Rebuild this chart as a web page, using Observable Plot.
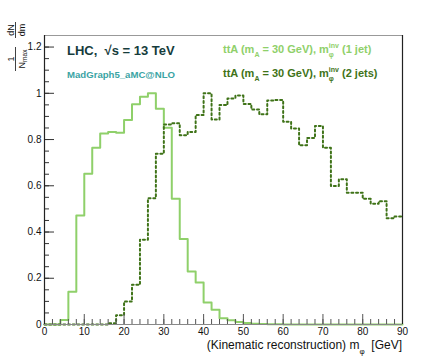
<!DOCTYPE html>
<html>
<head>
<meta charset="utf-8">
<script src="https://cdn.jsdelivr.net/npm/d3@7"></script>
<script src="https://cdn.jsdelivr.net/npm/@observablehq/plot@0.6"></script>
<style>
  html, body { margin: 0; padding: 0; background: #fff; }
  svg text { white-space: pre; }
</style>
</head>
<body>
<div id="chart"></div>
<script>
// bin width 2 GeV, bins from 0 to 90
const binWidth = 2;
const xDomain = [0, 90];
const yDomain = [0, 1.25];
const xMajor = [0, 10, 20, 30, 40, 50, 60, 70, 80, 90];
const xMinor = d3.range(0, 91, 2);
const yMajor = [0, 0.2, 0.4, 0.6, 0.8, 1, 1.2];
const yMinor = d3.range(0, 1.25, 0.05);

// ttA (mA = 30 GeV), m_phi^inv (1 jet)
const oneJet = [0, 0, 0.020, 0.142, 0.471, 0.652, 0.765, 0.826, 0.833, 0.829,
  0.884, 0.953, 0.985, 1.0, 0.933, 0.851, 0.544, 0.370, 0.229, 0.182,
  0.095, 0.064, 0.027, 0.018, 0.011, 0.006, 0.003, 0.002, 0.001, 0.001,
  0, 0, 0, 0, 0, 0, 0, 0, 0, 0, 0, 0, 0, 0, 0];
// ttA (mA = 30 GeV), m_phi^inv (2 jets)
const twoJets = [0, 0, 0, 0, 0, 0, 0, 0, 0.005, 0.040,
  0.099, 0.172, 0.367, 0.546, 0.739, 0.865, 0.870, 0.819, 0.833, 0.906,
  1.0, 0.887, 0.949, 0.978, 0.990, 0.954, 0.930, 0.909, 0.969, 0.971,
  0.877, 0.848, 0.775, 0.807, 0.859, 0.764, 0.599, 0.628, 0.570, 0.570,
  0.544, 0.522, 0.533, 0.460, 0.467];

const lightGreen = "#8fd06a";
const darkGreen = "#3f7318";

function steps(vals) {
  const pts = vals.map((v, i) => ({x: i * binWidth, y: v}));
  pts.push({x: vals.length * binWidth, y: vals[vals.length - 1]});
  return pts;
}

const W = 446, H = 360, mL = 44, mR = 44, mT = 35, mB = 36;
const fw = W - mL - mR, fh = H - mT - mB;

const plot = Plot.plot({
  width: W, height: H,
  marginLeft: mL, marginRight: mR, marginTop: mT, marginBottom: mB,
  x: {domain: xDomain},
  y: {domain: yDomain},
  style: {fontFamily: "'Liberation Sans', Arial, Helvetica, sans-serif", background: "#fff", color: "#111"},
  marks: [
    Plot.line(steps(oneJet), {x: "x", y: "y", curve: "step-after", stroke: lightGreen, strokeWidth: 2}),
    Plot.line(steps(twoJets), {x: "x", y: "y", curve: "step-after", stroke: darkGreen, strokeWidth: 2, strokeDasharray: "2,2.7"}),
    Plot.ruleX(xMinor, {x: d => d, insetTop: fh - 5, stroke: "#555", strokeWidth: 1}),
    Plot.ruleX(xMajor, {x: d => d, insetTop: fh - 10, stroke: "#555", strokeWidth: 1}),
    Plot.ruleY(yMinor, {y: d => d, insetRight: fw - 5, stroke: "#333", strokeWidth: 1}),
    Plot.ruleY(yMajor, {y: d => d, insetRight: fw - 10, stroke: "#333", strokeWidth: 1}),
    Plot.ruleY([yDomain[1]], {stroke: "#999", strokeWidth: 1.2}),
    Plot.ruleY([yDomain[0]], {stroke: "#888", strokeWidth: 1}),
    Plot.ruleX([xDomain[0]], {stroke: "#222", strokeWidth: 1.2}),
    Plot.ruleX([xDomain[1]], {stroke: "#222", strokeWidth: 1.2}),
    Plot.axisX({ticks: xMajor, tickSize: 0, tickPadding: 3, fontSize: 10, label: null, tickFormat: d => String(d)}),
    Plot.axisY({ticks: yMajor, tickSize: 0, tickPadding: 3, fontSize: 10, label: null, tickFormat: d => String(d)})
  ]
});
document.getElementById("chart").appendChild(plot);

const svg = d3.select(plot);
const FONT = "'Liberation Sans', Arial, Helvetica, sans-serif";

// rich text helper: parts = [{t, size, dy}] or {stack:[sup, sub]}
function rich(x, y, parts, {fill = "#000", bold = false, anchor = "start"} = {}) {
  const g = svg.append("g").attr("text-anchor", "start");
  let cx = 0;
  const put = (s, at) => g.append("text").attr("x", at).attr("y", s.dy || 0)
    .attr("text-anchor", "start")
    .attr("font-size", s.size).attr("font-family", FONT)
    .attr("font-weight", bold ? "bold" : "normal").attr("fill", fill).text(s.t);
  for (const p of parts) {
    if (p.stack) {
      let w = 0;
      for (const s of p.stack) w = Math.max(w, put(s, cx).node().getComputedTextLength());
      cx += w;
    } else {
      cx += put(p, cx).node().getComputedTextLength();
    }
  }
  const ox = anchor === "end" ? x - cx : x;
  g.attr("transform", `translate(${ox},${y})`);
  return g;
}

// Header texts
rich(67, 55, [{t: "LHC,  \u221As = 13 TeV", size: 13}], {fill: "#163c3c", bold: true});
rich(67, 78, [{t: "MadGraph5_aMC@NLO", size: 9.6}], {fill: "#3aa4a4", bold: true});

// Legend texts
const legendParts = (tail) => [
  {t: "ttA (m", size: 11},
  {t: "A", size: 7, dy: 3.5},
  {t: " = 30 GeV), m", size: 11},
  {stack: [{t: "inv", size: 7, dy: -5}, {t: "\u03C6", size: 7, dy: 4}]},
  {t: tail, size: 11}
];
rich(223, 53, legendParts(" (1 jet)"), {fill: lightGreen, bold: true});
rich(223, 77, legendParts(" (2 jets)"), {fill: darkGreen, bold: true});

// X axis title
rich(402, 349, [
  {t: "(Kinematic reconstruction) m", size: 12},
  {t: "\u03C6", size: 8, dy: 5},
  {t: "  [GeV]", size: 12}
], {fill: "#111", anchor: "end"});

// Y axis title (rotated fractions)
const yt = svg.append("g").attr("transform", "rotate(-90)")
  .attr("font-family", FONT).attr("fill", "#111").attr("font-size", 9);
function frac(center, num, halfw) {
  yt.append("text").attr("x", -center).attr("y", 13.5).attr("text-anchor", "middle").text(num);
  yt.append("line").attr("x1", -center - halfw).attr("x2", -center + halfw)
    .attr("y1", 15.5).attr("y2", 15.5).attr("stroke", "#111").attr("stroke-width", 0.8);
}
frac(59, "1", 12);
const nm = yt.append("text").attr("x", -59).attr("y", 24.5).attr("text-anchor", "middle");
nm.append("tspan").text("N");
nm.append("tspan").attr("font-size", 6.5).attr("dy", 2).text("max");
frac(30, "dN", 8);
yt.append("text").attr("x", -30).attr("y", 24.5).attr("text-anchor", "middle").text("dm");
</script>
</body>
</html>
